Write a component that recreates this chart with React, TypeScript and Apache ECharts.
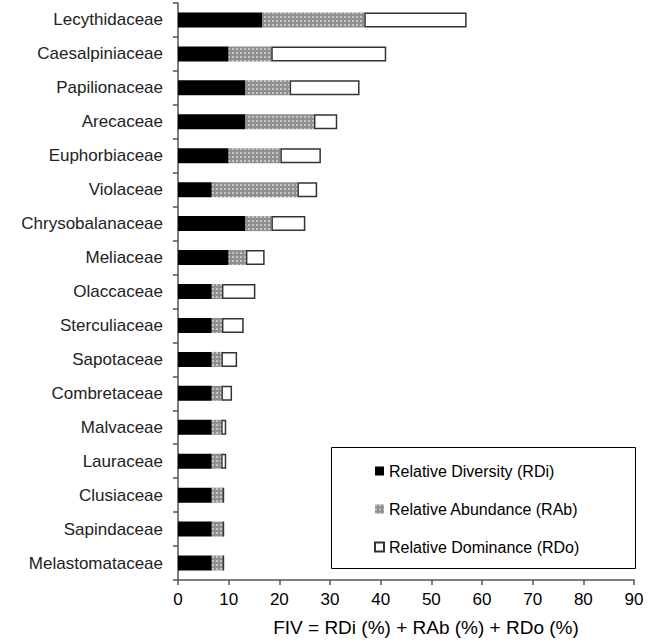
import React, { useEffect, useRef } from "react";
import * as echarts from "echarts";

const categories = [
  "Lecythidaceae", "Caesalpiniaceae", "Papilionaceae", "Arecaceae", "Euphorbiaceae",
  "Violaceae", "Chrysobalanaceae", "Meliaceae", "Olaccaceae", "Sterculiaceae",
  "Sapotaceae", "Combretaceae", "Malvaceae", "Lauraceae", "Clusiaceae",
  "Sapindaceae", "Melastomataceae",
];
const rdi = [16.67, 10, 13.33, 13.33, 10, 6.67, 13.33, 10, 6.67, 6.67, 6.67, 6.67, 6.67, 6.67, 6.67, 6.67, 6.67];
const rab = [20.1, 8.4, 8.7, 13.5, 10.2, 16.9, 5.1, 3.4, 2.0, 2.0, 1.9, 1.9, 1.85, 1.85, 2.3, 2.3, 2.3];
const rdo = [20.2, 22.7, 13.8, 4.6, 8.0, 3.9, 6.7, 3.7, 6.6, 4.3, 3.1, 2.1, 1.0, 1.0, 0, 0, 0];
const xTicks = [0, 10, 20, 30, 40, 50, 60, 70, 80, 90];
const seriesNames = ["Relative Diversity (RDi)", "Relative Abundance (RAb)", "Relative Dominance (RDo)"];
const xTitle = "FIV = RDi (%) + RAb (%) + RDo (%)";

const FONT = "Liberation Sans, Arial, sans-serif";

export default function App() {
  const ref = useRef<HTMLDivElement>(null);
  useEffect(() => {
    const chart = echarts.init(ref.current!, undefined, { renderer: "svg" });
    chart.setOption({
      animation: false,
      grid: { left: 178, right: 15, top: 3, bottom: 60, containLabel: false },
      xAxis: {
        type: "value",
        min: xTicks[0],
        max: xTicks[xTicks.length - 1],
        interval: 10,
        splitLine: { show: false },
        axisLine: { show: true, lineStyle: { color: "#555", width: 1.5 } },
        axisTick: { show: true, length: 5, lineStyle: { color: "#555", width: 1.5 } },
        axisLabel: { color: "#000", fontSize: 17, fontFamily: FONT, margin: 11 },
      },
      yAxis: {
        type: "category",
        inverse: true,
        data: categories,
        axisLine: { show: true, lineStyle: { color: "#555", width: 1.5 } },
        axisTick: { show: true, length: 5, lineStyle: { color: "#555", width: 1.5 } },
        axisLabel: { color: "#222", fontSize: 17, fontFamily: FONT, margin: 15 },
      },
      legend: {
        orient: "vertical",
        left: 369,
        top: 458,
        itemWidth: 9,
        itemHeight: 9,
        itemGap: 22,
        icon: "rect",
        data: seriesNames,
        textStyle: { color: "#000", fontSize: 16, fontFamily: FONT },
      },
      graphic: [
        {
          type: "rect",
          shape: { x: 331.5, y: 447.5, width: 304, height: 121 },
          style: { fill: "none", stroke: "#000", lineWidth: 1 },
          z: 1,
        },
        {
          type: "text",
          x: 426,
          y: 627,
          style: {
            text: xTitle,
            fill: "#000",
            fontSize: 19,
            fontFamily: FONT,
            align: "center",
            verticalAlign: "middle",
          },
        },
      ],
      series: [
        {
          name: seriesNames[0],
          type: "bar",
          stack: "fiv",
          barWidth: 15,
          data: rdi,
          itemStyle: { color: "#000", borderColor: "#000", borderWidth: 0 },
        },
        {
          name: seriesNames[1],
          type: "bar",
          stack: "fiv",
          barWidth: 15,
          data: rab,
          itemStyle: {
            color: "#8f8f8f",
            decal: {
              symbol: "rect",
              symbolSize: 0.8,
              color: "rgba(255,255,255,0.8)",
              dashArrayX: [1.5, 2],
              dashArrayY: [1.5, 2],
              rotation: 0,
            },
          },
        },
        {
          name: seriesNames[2],
          type: "bar",
          stack: "fiv",
          barWidth: 15,
          data: rdo,
          itemStyle: { color: "#fff", borderColor: "#333", borderWidth: 1.5 },
        },
      ],
    });
    return () => chart.dispose();
  }, []);
  return (
    <div
      ref={ref}
      style={{ position: "absolute", left: 0, top: 0, width: 649, height: 640 }}
    />
  );
}
